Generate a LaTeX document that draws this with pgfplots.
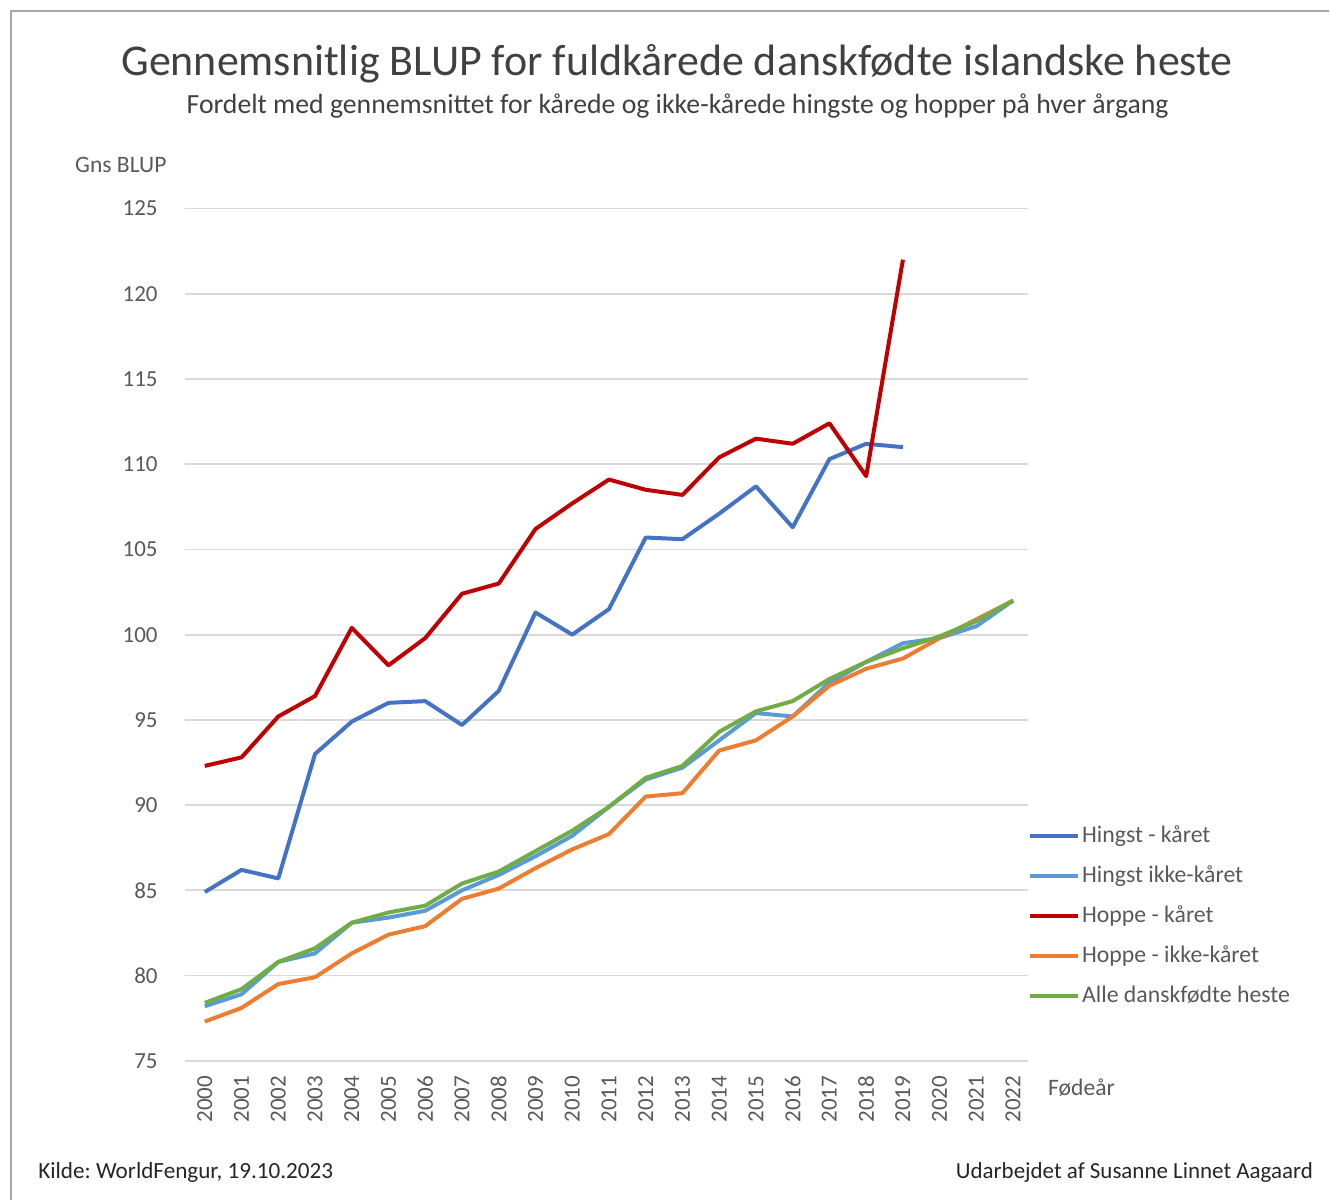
\documentclass[border=0pt]{standalone}
\usepackage{pgfplots}
\pgfplotsset{compat=1.18}
\usepackage{fontspec}
\setmainfont{Carlito}
\frenchspacing
\definecolor{cHK}{HTML}{4472C4}
\definecolor{cHI}{HTML}{5B9BD5}
\definecolor{cPK}{HTML}{C00000}
\definecolor{cPI}{HTML}{ED7D31}
\definecolor{cAL}{HTML}{70AD47}
\definecolor{tgray}{HTML}{595959}
\definecolor{ttitle}{HTML}{404040}
\definecolor{grid}{HTML}{D9D9D9}
\begin{document}
\begin{tikzpicture}
\path[draw=none] (0pt,0pt) rectangle (665pt,600.5pt);
\draw[color=black!35, line width=0.8pt] (5.5pt,-1pt) -- (5.5pt,595pt) -- (666pt,595pt);
\node[font=\fontsize{22}{24}\selectfont, text=ttitle] at (339.25pt,568.5pt) {Gennemsnitlig BLUP for fuldkårede danskfødte islandske heste};
\node[font=\fontsize{13.9}{16}\selectfont, text=ttitle] at (339.5pt,547.5pt) {Fordelt med gennemsnittet for kårede og ikke-kårede hingste og hopper på hver årgang};
\node[font=\fontsize{11.8}{13}\selectfont, text=tgray, anchor=west, inner sep=0pt] at (37.5pt,518pt) {Gns BLUP};
\node[font=\fontsize{11.8}{13}\selectfont, text=tgray, anchor=west, inner sep=0pt] at (525pt,55.5pt) {Fødeår};
\node[font=\fontsize{11.6}{13}\selectfont, text=black!85, anchor=west, inner sep=0pt] at (19pt,13pt) {Kilde: WorldFengur, 19.10.2023};
\node[font=\fontsize{11.5}{13}\selectfont, text=black!85, anchor=east, inner sep=0pt] at (658pt,13pt) {Udarbejdet af Susanne Linnet Aagaard};
\begin{axis}[
  at={(92.5pt,69pt)}, anchor=south west,
  scale only axis, width=422.5pt, height=427pt,
  xmin=1999.45, xmax=2022.4, ymin=75, ymax=125,
  axis line style={draw=none},
  xtick={2000,...,2022}, ytick={75,80,...,125},
  major tick length=0pt,
  ymajorgrids, grid style={color=grid, line width=0.9pt},
  /pgf/number format/assume math mode=true,
  /pgf/number format/1000 sep={},
  tick label style={font=\fontsize{11.5}{13}\selectfont, text=tgray},
  yticklabel style={xshift=-10pt},
  xticklabel style={yshift=-4pt, rotate=90, anchor=east},
  legend style={at={(1,0.2783)}, anchor=north west, draw=none, fill=none,
    font=\fontsize{11.9}{14}\selectfont, text=tgray,
    row sep=8.1pt, inner sep=0pt, nodes={inner sep=1pt}},
  legend cell align=left,
  legend image code/.code={\draw[#1, line width=2pt] (0pt,0pt) -- (24pt,0pt);},
  every axis plot/.append style={line width=2pt, line join=round, no marks},
]
\addplot[color=cHK] coordinates {(2000,84.9)(2001,86.2)(2002,85.7)(2003,93.0)(2004,94.9)(2005,96.0)(2006,96.1)(2007,94.7)(2008,96.7)(2009,101.3)(2010,100.0)(2011,101.5)(2012,105.7)(2013,105.6)(2014,107.1)(2015,108.7)(2016,106.3)(2017,110.3)(2018,111.2)(2019,111.0)};
\addlegendentry{Hingst - kåret}
\addplot[color=cHI] coordinates {(2000,78.2)(2001,78.9)(2002,80.8)(2003,81.3)(2004,83.1)(2005,83.4)(2006,83.8)(2007,85.0)(2008,85.9)(2009,87.0)(2010,88.2)(2011,89.9)(2012,91.5)(2013,92.2)(2014,93.8)(2015,95.4)(2016,95.2)(2017,97.2)(2018,98.4)(2019,99.5)(2020,99.8)(2021,100.5)(2022,102.0)};
\addlegendentry{Hingst ikke-kåret}
\addplot[color=cPK] coordinates {(2000,92.3)(2001,92.8)(2002,95.2)(2003,96.4)(2004,100.4)(2005,98.2)(2006,99.8)(2007,102.4)(2008,103.0)(2009,106.2)(2010,107.7)(2011,109.1)(2012,108.5)(2013,108.2)(2014,110.4)(2015,111.5)(2016,111.2)(2017,112.4)(2018,109.3)(2019,122.0)};
\addlegendentry{Hoppe - kåret}
\addplot[color=cPI] coordinates {(2000,77.3)(2001,78.1)(2002,79.5)(2003,79.9)(2004,81.3)(2005,82.4)(2006,82.9)(2007,84.5)(2008,85.1)(2009,86.3)(2010,87.4)(2011,88.3)(2012,90.5)(2013,90.7)(2014,93.2)(2015,93.8)(2016,95.2)(2017,97.0)(2018,98.0)(2019,98.6)(2020,99.8)(2021,100.9)(2022,102.0)};
\addlegendentry{Hoppe - ikke-kåret}
\addplot[color=cAL] coordinates {(2000,78.4)(2001,79.2)(2002,80.8)(2003,81.6)(2004,83.1)(2005,83.7)(2006,84.1)(2007,85.4)(2008,86.1)(2009,87.3)(2010,88.5)(2011,89.9)(2012,91.6)(2013,92.3)(2014,94.3)(2015,95.5)(2016,96.1)(2017,97.4)(2018,98.4)(2019,99.2)(2020,99.9)(2021,100.8)(2022,102.0)};
\addlegendentry{Alle danskfødte heste}
\end{axis}
\end{tikzpicture}
\end{document}
